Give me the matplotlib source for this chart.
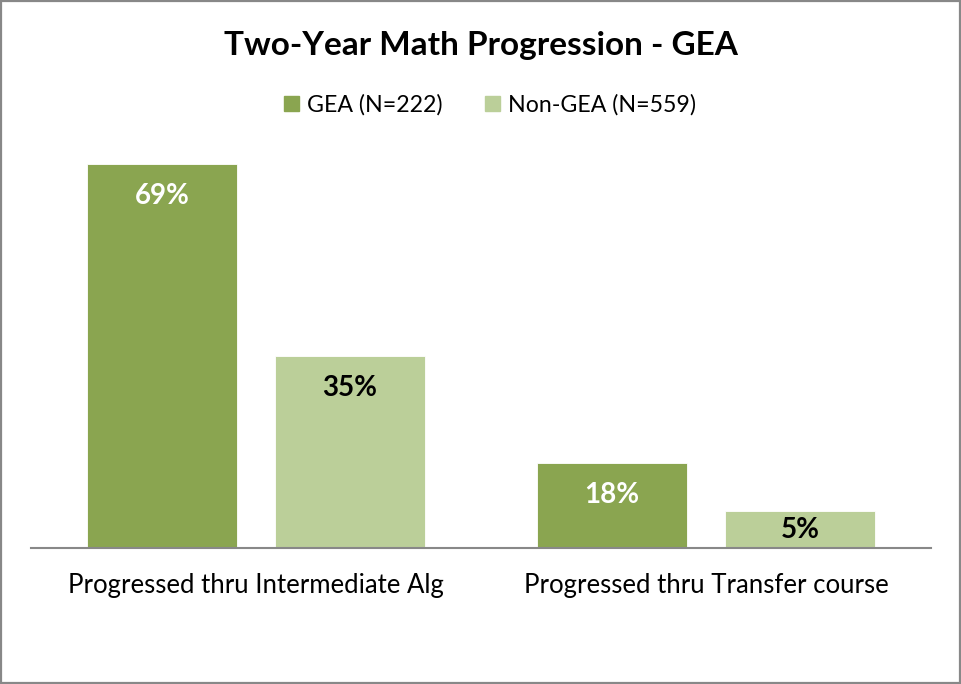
import matplotlib
matplotlib.use("Agg")
import matplotlib.pyplot as plt
from matplotlib.patches import Rectangle, Patch
import numpy as np

plt.rcParams['font.family'] = ['Lato', 'DejaVu Sans']

categories = ["Progressed thru Intermediate Alg", "Progressed thru Transfer course"]
series_names = ["GEA (N=222)", "Non-GEA (N=559)"]
gea_values = [69.0, 15.3]
nongea_values = [34.5, 6.6]
gea_labels = ["69%", "18%"]
nongea_labels = ["35%", "5%"]
title = "Two-Year Math Progression - GEA"

dark = "#8AA550"
light = "#BBCF99"

fig = plt.figure(figsize=(9.61, 6.84), dpi=100)
ax = fig.add_axes([31/961, (684-548)/684, 900/961, 0.61])
ax.set_xlim(-0.5, 1.5)
ylim_top = 0.61 * 684 / 5.565
ax.set_ylim(0, ylim_top)

x = np.arange(len(categories))
w = 150/450
off = 94/450
b1 = ax.bar(x - off, gea_values, width=w, color=dark, edgecolor="white", linewidth=0.6)
b2 = ax.bar(x + off, nongea_values, width=w, color=light, edgecolor="white", linewidth=0.6)

px = ylim_top / (0.61 * 684)  # data units per pixel
for bars, labels, col in ((b1, gea_labels, "white"), (b2, nongea_labels, "black")):
    for bar, lab in zip(bars, labels):
        h = bar.get_height()
        d = min(32 * px, h / 2)
        ax.text(bar.get_x() + bar.get_width()/2, h - d, lab, ha="center", va="center",
                fontsize=20, fontweight="bold", color=col)

for s in ["top", "right", "left"]:
    ax.spines[s].set_visible(False)
ax.spines["bottom"].set_color("#888888")
ax.spines["bottom"].set_linewidth(1.5)
ax.set_yticks([])
ax.set_xticks(x)
ax.set_xticklabels(categories, fontsize=18.5)
ax.tick_params(axis="x", length=0, pad=18)

fig.text(0.5, (684-46)/684, title, ha="center", va="center", fontsize=24, fontweight="bold")

handles = [Patch(color=dark), Patch(color=light)]
fig.legend(handles, series_names, loc="center", bbox_to_anchor=(490/961, (684-105)/684),
           ncol=2, frameon=False, fontsize=16.7, handlelength=0.65, handleheight=0.65,
           handletextpad=0.35, columnspacing=1.8)

fig.patches.append(Rectangle((0.001, 0.001), 0.998, 0.997, transform=fig.transFigure,
                             fill=False, edgecolor="#888888", linewidth=1.6))

fig.savefig("out.png", dpi=100)
